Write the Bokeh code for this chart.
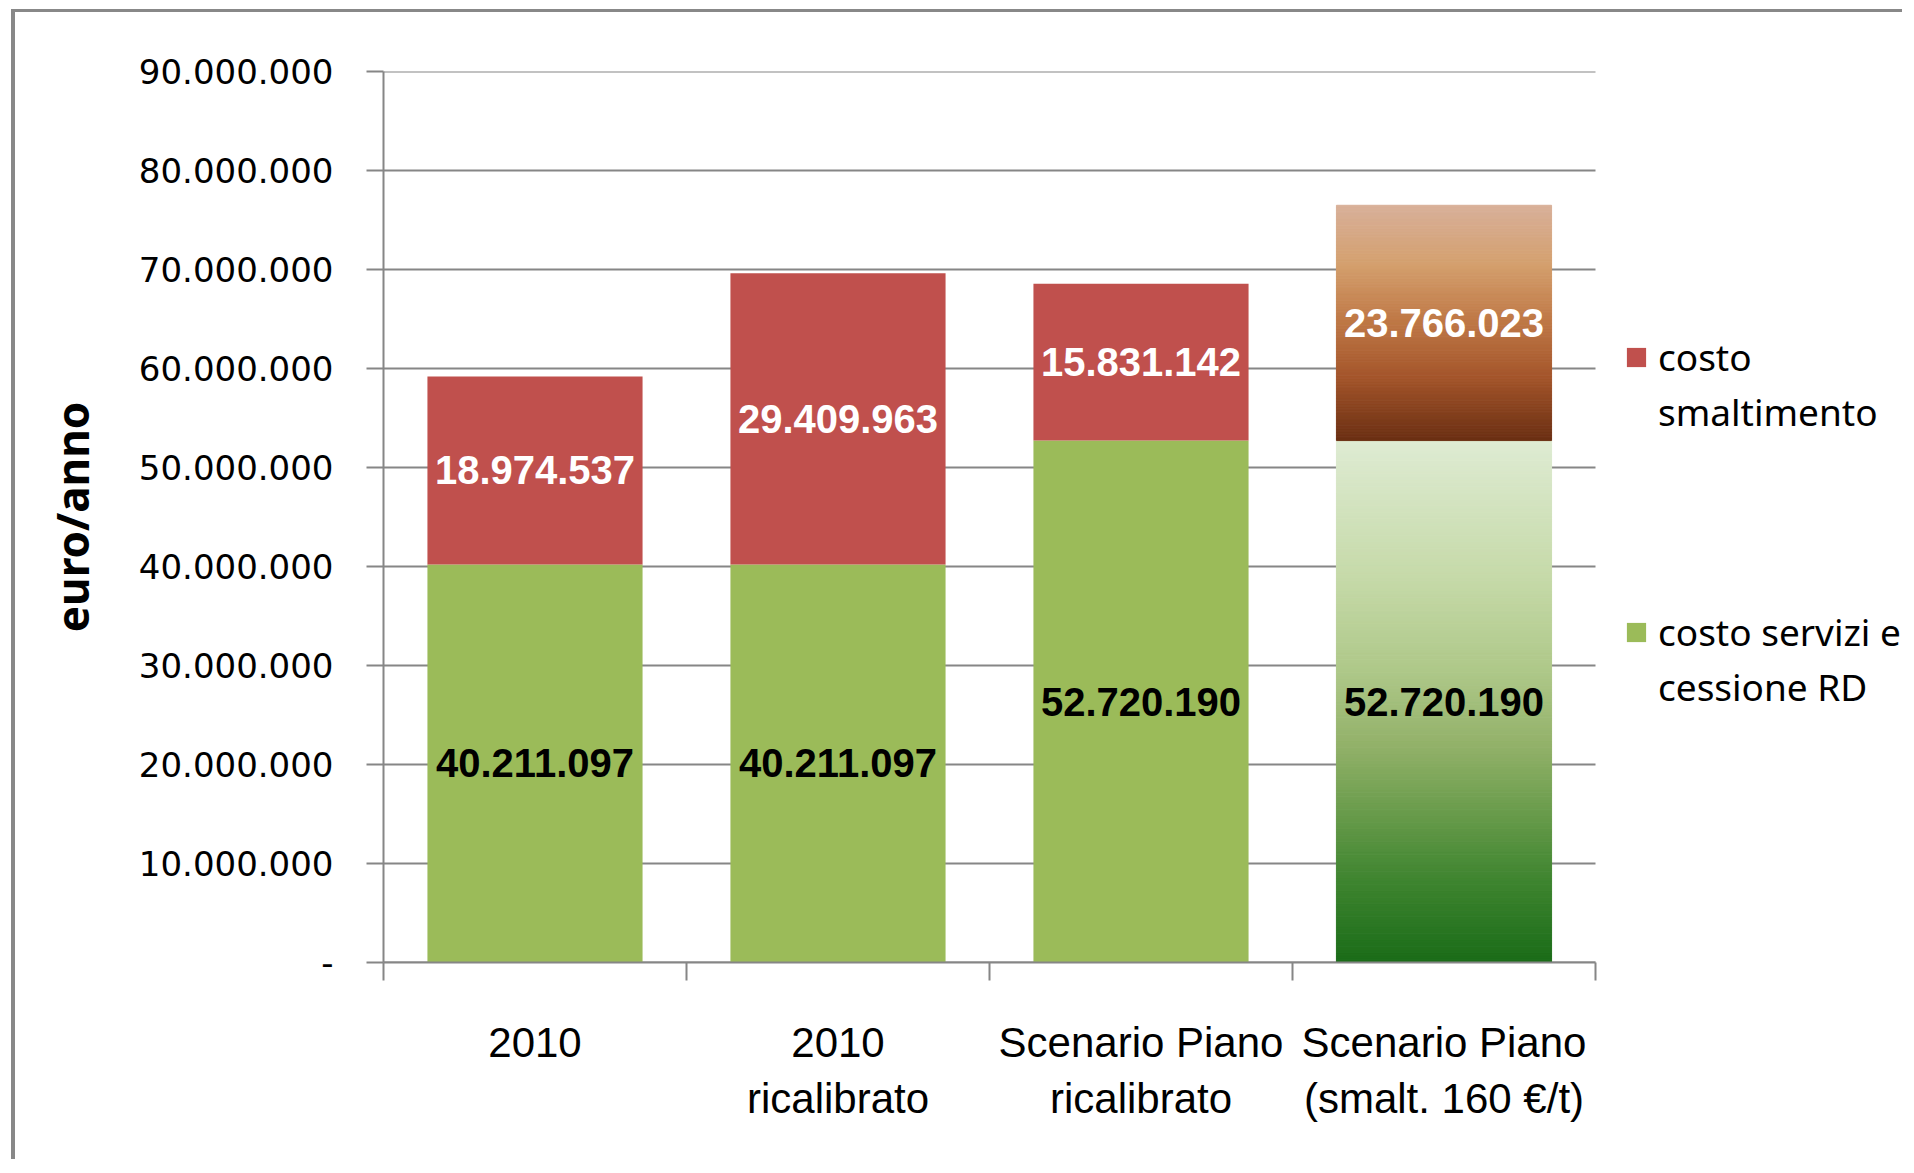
import numpy as np
from bokeh.plotting import figure
from bokeh.models import ColumnDataSource, Range1d, FixedTicker, Legend, LegendItem
from bokeh.core.properties import value
from bokeh.embed import file_html
from bokeh.resources import INLINE

# ---------------- data ----------------
categories = ["2010", "2010\nricalibrato", "Scenario Piano\nricalibrato",
              "Scenario Piano\n(smalt. 160 €/t)"]
costo_servizi = [40211097, 40211097, 52720190, 52720190]
costo_smaltimento = [18974537, 29409963, 15831142, 23766023]
y_ticks = [0, 10000000, 20000000, 30000000, 40000000, 50000000,
           60000000, 70000000, 80000000, 90000000]
legend_lines = [["costo", "smaltimento"], ["costo servizi e", "cessione RD"]]

# ---------------- style ----------------
RED = "#c0504d"
GREEN = "#9bbb59"
GRAY = "#868686"
SANS = "Liberation Sans"

W, H = 1891, 1150
LEFT, TOP, BOTTOM = 368, 59, 200
FRAME_W = W - LEFT
CAT_PX = 303.0          # pixels per category slot

# gradient stops (fraction from bottom of segment, colour) for the last bar
brown_stops = [(0.0, "#6a2f13"), (0.27, "#a4552b"), (0.52, "#c07a48"),
               (0.75, "#d4a06e"), (1.0, "#d8b09a")]
green_stops = [(0.0, "#1a6b18"), (0.16, "#3f8530"), (0.29, "#6a9c4c"),
               (0.42, "#93b26a"), (0.55, "#adc787"), (0.74, "#c6daa9"),
               (1.0, "#deebd3")]


def fmt(v):
    return f"{v:,}".replace(",", ".")


def hex2rgb(h):
    h = h.lstrip("#")
    return np.array([int(h[i:i + 2], 16) for i in (0, 2, 4)], dtype=float)


def grad_color(stops, f):
    pos = [s[0] for s in stops]
    cols = np.array([hex2rgb(s[1]) for s in stops])
    rgb = [np.interp(f, pos, cols[:, k]) for k in range(3)]
    return "#%02x%02x%02x" % tuple(int(round(c)) for c in rgb)


xs = list(range(1, len(categories) + 1))
x_lo, x_hi = 0.5, len(categories) + 0.5
tops = [a + b for a, b in zip(costo_servizi, costo_smaltimento)]

p = figure(width=W, height=H,
           x_range=Range1d(x_lo, x_lo + FRAME_W / CAT_PX),
           y_range=Range1d(0, y_ticks[-1]),
           output_backend="svg", toolbar_location=None,
           min_border_left=LEFT, min_border_right=0,
           min_border_top=TOP, min_border_bottom=BOTTOM,
           background_fill_color="white", border_fill_color="white",
           outline_line_color=None)
p.styles = {"margin-left": "11px", "margin-top": "9px",
            "border-left": "4px solid #888888",
            "border-top": "3px solid #888888"}

# horizontal gridlines limited to the category area
p.ygrid.visible = False
p.xgrid.visible = False
p.segment(x0=[x_lo] * len(y_ticks), x1=[x_hi] * len(y_ticks),
          y0=y_ticks, y1=y_ticks, line_color=GRAY, line_width=2)

BW = 0.71
n_plain = len(categories) - 1

src_plain = ColumnDataSource(dict(
    x=xs[:n_plain], serv=costo_servizi[:n_plain],
    top=tops[:n_plain]))
r_green = p.vbar(x="x", width=BW, bottom=0, top="serv", source=src_plain,
                 fill_color=GREEN, line_color=None)
r_red = p.vbar(x="x", width=BW, bottom="serv", top="top", source=src_plain,
               fill_color=RED, line_color=None)
r_blank = p.vbar(x=[], width=BW, bottom=[], top=[], fill_alpha=0, line_alpha=0)

# gradient bar (last category) built from thin horizontal slices
N = 160
gx, gb, gt, gc = [], [], [], []
i = len(categories) - 1
for (b, t, stops) in [(0, costo_servizi[i], green_stops),
                      (costo_servizi[i], tops[i], brown_stops)]:
    edges = np.linspace(b, t, N + 1)
    for k in range(N):
        f = (k + 0.5) / N
        gx.append(xs[i])
        gb.append(edges[k])
        gt.append(edges[k + 1])
        gc.append(grad_color(stops, f))
p.vbar(x=gx, width=BW, bottom=gb, top=gt, fill_color=gc, line_color=gc,
       line_width=1)

# value labels
lab_x, lab_y, lab_t, lab_c = [], [], [], []
for j in range(len(categories)):
    lab_x += [xs[j], xs[j]]
    lab_y += [costo_servizi[j] / 2, costo_servizi[j] + costo_smaltimento[j] / 2]
    lab_t += [fmt(costo_servizi[j]), fmt(costo_smaltimento[j])]
    lab_c += ["#000000", "#ffffff"]
p.text(x=lab_x, y=lab_y, text=lab_t, text_color=lab_c,
       text_font=value(SANS), text_font_style="bold",
       text_font_size="40px", text_align="center", text_baseline="middle")

# axes
ya = p.yaxis[0]
ya.ticker = FixedTicker(ticks=y_ticks)
ya.major_label_overrides = {v: (fmt(v) if v else "-") for v in y_ticks}
ya.axis_line_color = GRAY
ya.axis_line_width = 2
ya.major_tick_line_color = GRAY
ya.major_tick_line_width = 2
ya.major_tick_out = 17
ya.major_tick_in = 0
ya.minor_tick_line_color = None
ya.major_label_standoff = 33
ya.major_label_text_font = "DejaVu Sans"
ya.major_label_text_font_size = "34px"
ya.major_label_text_color = "#000000"
ya.axis_label = "euro/anno"
ya.axis_label_text_font = "Noto Sans"
ya.axis_label_text_font_style = "bold"
ya.axis_label_text_font_size = "44px"
ya.axis_label_text_color = "#000000"
ya.axis_label_standoff = 34

xa = p.xaxis[0]
xa.bounds = (x_lo, x_hi)
xa.ticker = FixedTicker(ticks=xs, minor_ticks=[x - 0.5 for x in xs] + [xs[-1] + 0.5])
xa.major_label_overrides = {x: c for x, c in zip(xs, categories)}
xa.axis_line_color = GRAY
xa.axis_line_width = 2
xa.major_tick_line_color = None
xa.major_tick_out = 0
xa.major_tick_in = 0
xa.minor_tick_line_color = GRAY
xa.minor_tick_line_width = 2
xa.minor_tick_out = 18
xa.minor_tick_in = 0
xa.major_label_standoff = 38
xa.major_label_text_font = SANS
xa.major_label_text_font_size = "42px"
xa.major_label_text_color = "#000000"

# legend (two-line labels split into separate rows), inside the frame on the right
items = [
    LegendItem(label=value(legend_lines[0][0]), renderers=[r_red]),
    LegendItem(label=value(legend_lines[0][1]), renderers=[r_blank]),
    LegendItem(label=value(" "), renderers=[r_blank]),
    LegendItem(label=value(" "), renderers=[r_blank]),
    LegendItem(label=value(" "), renderers=[r_blank]),
    LegendItem(label=value(legend_lines[1][0]), renderers=[r_green]),
    LegendItem(label=value(legend_lines[1][1]), renderers=[r_blank]),
]
legend = Legend(items=items, location=(int(len(categories) * CAT_PX) + 29, 248))
legend.glyph_width = 24
legend.glyph_height = 24
legend.label_height = 55
legend.spacing = 0
legend.padding = 0
legend.margin = 0
legend.label_standoff = 10
legend.border_line_color = None
legend.background_fill_alpha = 0
legend.label_text_font = "Noto Sans"
legend.label_text_font_size = "37px"
legend.label_text_color = "#000000"
p.add_layout(legend)

open("out.html", "w").write(file_html(p, INLINE))
